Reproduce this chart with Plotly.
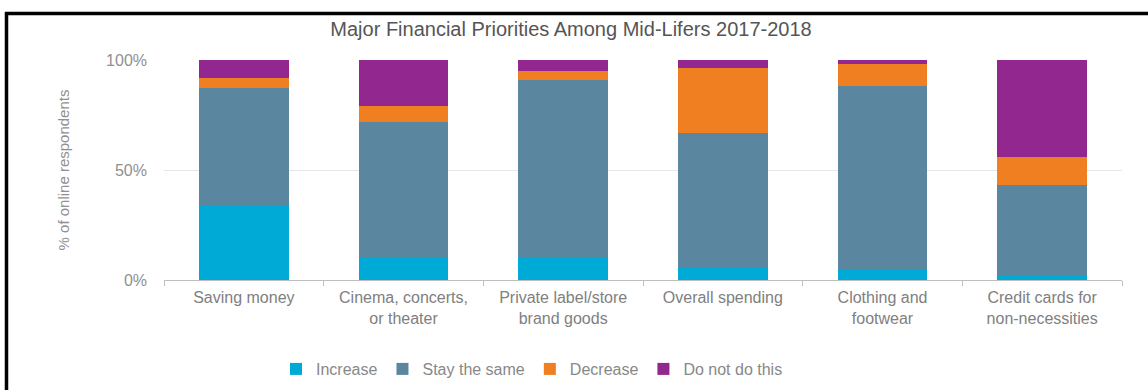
import plotly.graph_objects as go

categories = ["Saving money", "Cinema, concerts,<br>or theater", "Private label/store<br>brand goods",
              "Overall spending", "Clothing and<br>footwear", "Credit cards for<br>non-necessities"]
increase = [34, 10, 10, 5.5, 5, 2]
stay_same = [53.5, 62, 81, 61.5, 83, 41]
decrease = [4.5, 7, 4, 29.5, 10, 13]
do_not = [8, 21, 5, 3.5, 2, 44]

series = [
    ("Increase", increase, "#00AAD6"),
    ("Stay the same", stay_same, "#5B86A0"),
    ("Decrease", decrease, "#F07F22"),
    ("Do not do this", do_not, "#92278F"),
]

W, H = 1148, 390
L, R, T, B = 164, 26, 60, 110
pw, ph = W - L - R, H - T - B

fig = go.Figure()
for name, vals, col in series:
    fig.add_trace(go.Bar(x=categories, y=vals, name=name, marker=dict(color=col, line=dict(width=0))))

def px_x(p):
    return (p - L) / pw

def px_y(p):
    return (H - B - p) / ph

fig.update_layout(
    width=W, height=H,
    margin=dict(l=L, r=R, t=T, b=B, autoexpand=False),
    barmode="stack", bargap=0.44,
    paper_bgcolor="white", plot_bgcolor="white",
    font=dict(family="Liberation Sans, Arial, sans-serif", color="#888888", size=16),
    title=dict(text="Major Financial Priorities Among Mid-Lifers 2017-2018",
               x=571 / W, xanchor="center", y=1 - 29 / H, yanchor="middle",
               font=dict(size=20, color="#555555")),
    showlegend=True,
    legend=dict(orientation="h", x=px_x(276), xanchor="left", y=px_y(369), yanchor="middle",
                font=dict(size=16, color="#888888"), itemwidth=30, traceorder="normal",
                bgcolor="rgba(0,0,0,0)"),
    xaxis=dict(showline=True, linecolor="#BFBFBF", linewidth=1, ticks="outside",
               tickson="boundaries", ticklen=5, tickcolor="#BFBFBF", automargin=False,
               ticklabelstandoff=3,
               tickfont=dict(size=16, color="#808080"), showgrid=False),
    yaxis=dict(range=[0, 100], tickvals=[0, 50, 100], ticktext=["0%", "50%", "100%"],
               showgrid=True, gridcolor="#E6E6E6", gridwidth=1, zeroline=False,
               ticklabelstandoff=16, automargin=False,
               tickfont=dict(size=16, color="#909090"),
               title=dict(text="% of online respondents", standoff=32,
                          font=dict(size=15, color="#909090"))),
    shapes=[
        dict(type="line", xref="paper", yref="paper", x0=px_x(5), x1=px_x(W + 2),
             y0=px_y(13.5), y1=px_y(13.5), line=dict(color="black", width=3.5)),
        dict(type="line", xref="paper", yref="paper", x0=px_x(6.5), x1=px_x(6.5),
             y0=px_y(12), y1=px_y(H + 2), line=dict(color="black", width=3.5)),
    ],
)

fig.write_html("out.html")
